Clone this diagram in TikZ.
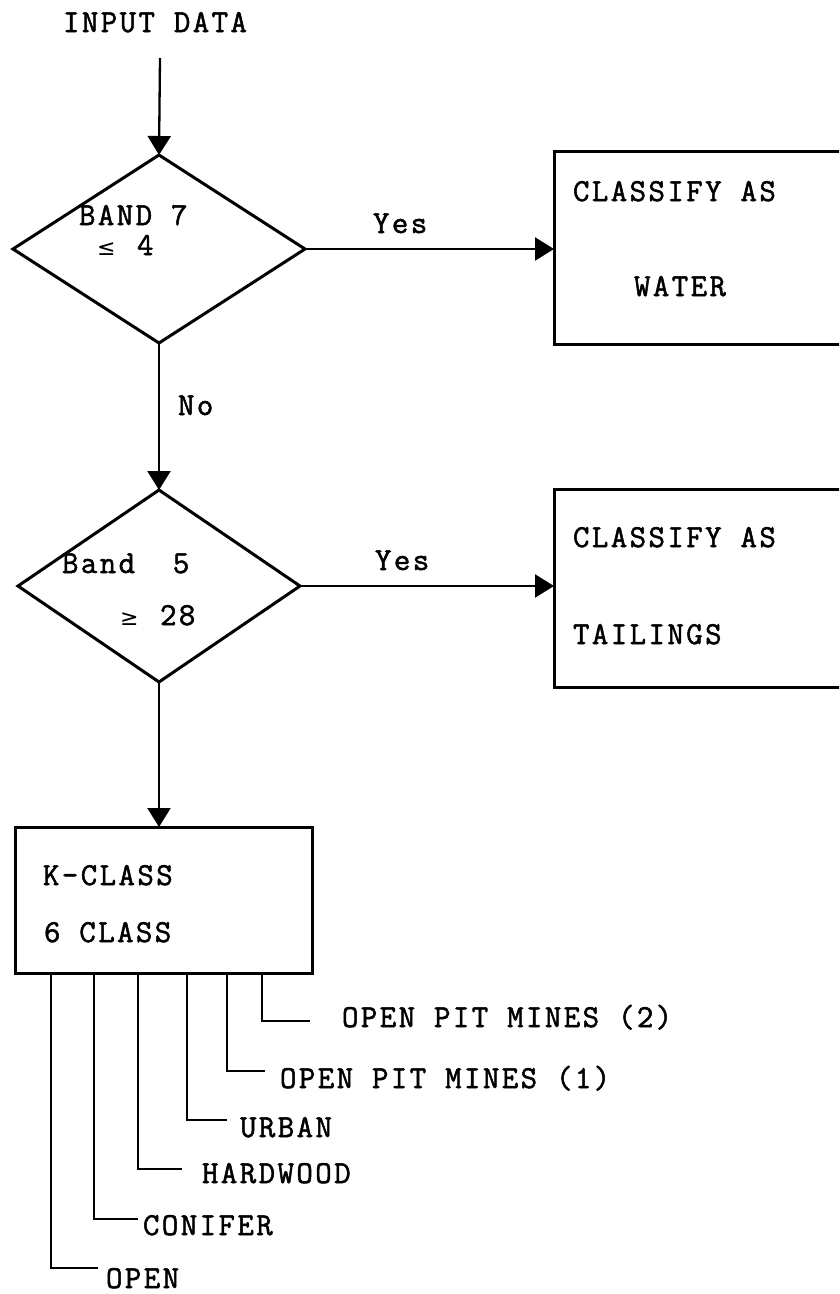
\documentclass[tikz,border=0pt]{standalone}
\usepackage{fontspec}
\newfontfamily\tw{Latin Modern Mono}[LetterSpace=7.5,FakeBold=1.6]
\newfontfamily\symf{DejaVu Sans}
\usetikzlibrary{shapes.geometric,arrows.meta}
\begin{document}
\begin{tikzpicture}[x=1pt,y=-1pt,
  lbl/.style={anchor=base west,inner sep=0pt,outer sep=0pt,font=\tw\fontsize{32}{38}\selectfont},
  dia/.style={diamond,draw,line width=3pt,inner sep=0pt,outer sep=0pt},
  boxx/.style={rectangle,draw,line width=3pt,inner sep=0pt,outer sep=0pt,anchor=north west},
  arr/.style={line width=2.3pt,-{Triangle[length=19pt,width=23pt]}},
  br/.style={line width=2.6pt}]
\useasboundingbox (0,0) rectangle (839,1294);
\fill[white] (0,0) rectangle (839,1294);
\clip (0,0) rectangle (839,1294);

% input
\node[lbl] (input) at (63,32) {INPUT DATA};
\coordinate (start) at (160,58);

% decisions
\node[dia,minimum width=292pt,minimum height=188pt] (d1) at (159,249) {};
\node[dia,minimum width=282pt,minimum height=192pt] (d2) at (159,586) {};

\node[lbl] (t1a) at (79,225) {BAND 7};
\node[lbl] (t1b) at (97,255) {\makebox[40pt][l]{\symf\fontsize{22}{22}\selectfont ≤}4};
\node[lbl] (t2a) at (62,573) {Band~~5};
\node[lbl] (t2b) at (120,625) {\makebox[40pt][l]{\symf\fontsize{22}{22}\selectfont ≥}28};

% result boxes
\node[boxx,minimum width=330pt,minimum height=193pt] (water) at (554,151) {};
\node[boxx,minimum width=330pt,minimum height=198pt] (tail) at (554,489) {};
\node[lbl] (w1) at (573,201) {CLASSIFY AS};
\node[lbl] (w2) at (634,296) {WATER};
\node[lbl] (ta1) at (573,547) {CLASSIFY AS};
\node[lbl] (ta2) at (573,644) {TAILINGS};

% k-class box
\node[boxx,minimum width=297pt,minimum height=146pt] (kbox) at (15,827) {};
\node[lbl] (k1) at (43,885) {K-CLASS};
\node[lbl] (k2) at (44,942) {6 CLASS};

% arrows
\draw[arr] (start) -- (d1.north);
\draw[arr] (d1.south) -- (d2.north);
\draw[arr] (d2.south) -- (d2.south |- kbox.north);
\draw[arr] (d1.east) -- (water.west |- d1.east);
\draw[arr] (d2.east) -- (tail.west |- d2.east);

\node[lbl] (yes1) at (373,233) {Yes};
\node[lbl] (yes2) at (375,570) {Yes};
\node[lbl] (no) at (178,415) {No};

% branches
\foreach \i/\vx/\cy/\ex/\lx/\ly/\txt in {
  1/51/1268/98/106/1288/OPEN,
  2/94/1219/138/143/1235/CONIFER,
  3/138/1169/182/202/1183/HARDWOOD,
  4/187/1120/227/240/1137/URBAN,
  5/227/1071/265/280/1088/OPEN PIT MINES (1),
  6/262/1021/310/342/1027/OPEN PIT MINES (2)}{
  \coordinate (c\i) at (\vx,\cy);
  \coordinate (e\i) at (\ex,\cy);
  \node[lbl] (l\i) at (\lx,\ly) {\txt};
  \draw[br] (kbox.south -| c\i) -- (c\i) -- (e\i);
}
\end{tikzpicture}
\end{document}
